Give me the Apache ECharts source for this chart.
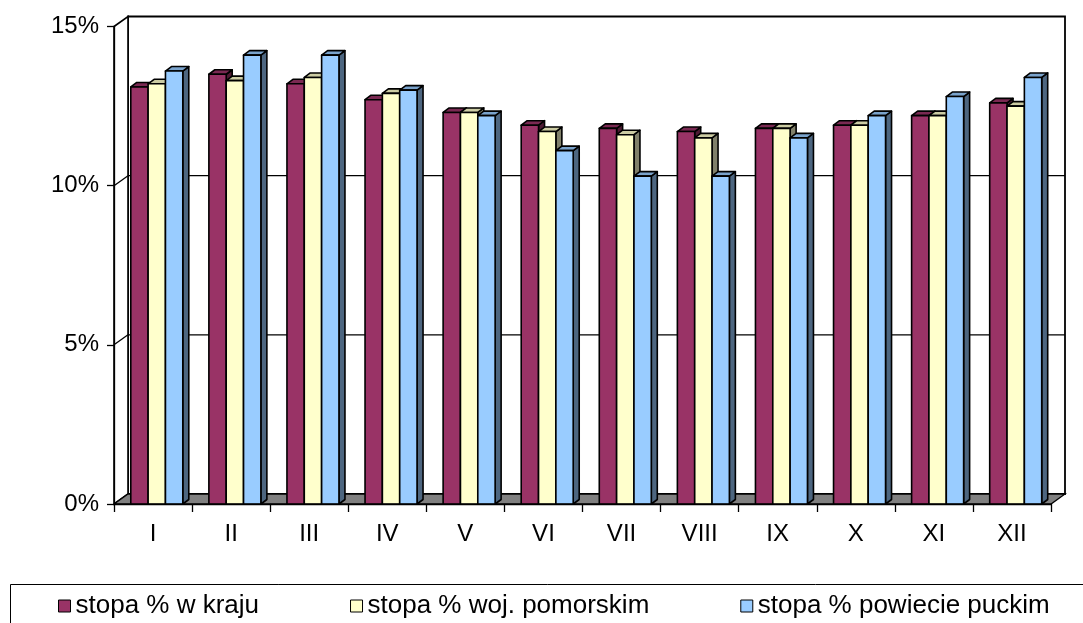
<!DOCTYPE html>
<html>
<head>
<meta charset="utf-8">
<script src="https://cdn.jsdelivr.net/npm/echarts@6/dist/echarts.min.js"></script>
<style>html,body{margin:0;padding:0;background:#fff;}#c{width:1083px;height:623px;}</style>
</head>
<body>
<div id="c"></div>
<script>
const categories = ['I','II','III','IV','V','VI','VII','VIII','IX','X','XI','XII'];
const seriesNames = ['stopa % w kraju', 'stopa % woj. pomorskim', 'stopa % powiecie puckim'];
const kraj     = [13.1, 13.5, 13.2, 12.7, 12.3, 11.9, 11.8, 11.7, 11.8, 11.9, 12.2, 12.6];
const pomorskie = [13.2, 13.3, 13.4, 12.9, 12.3, 11.7, 11.6, 11.5, 11.8, 11.9, 12.2, 12.5];
const puck     = [13.6, 14.1, 14.1, 13.0, 12.2, 11.1, 10.3, 10.3, 11.5, 12.2, 12.8, 13.4];
const yTicks = [0, 5, 10, 15];

const FRONT = ['#993366', '#FFFFCC', '#99CCFF'];
const TOP   = ['#7a2952', '#cccca3', '#7aa3cc'];
const SIDE  = ['#4d1a33', '#80806a', '#4d6680'];
const DX = 14, DY = -10;      // depth of the walls
const BDX = 6, BDY = -4.5;    // depth of a bar
const START = 0.215, W = 0.222;

function barRender(s) {
  return function (params, api) {
    const cat = api.value(0), v = api.value(1);
    const top = api.coord([cat, v]);
    const base = api.coord([cat, 0]);
    const band = api.size([1, 0])[0];
    const x0 = top[0] - band / 2 + band * (START + s * W);
    const w = band * W;
    const y = top[1], yb = base[1];
    const st = { stroke: '#000', lineWidth: 1.6, lineJoin: 'round' };
    return {
      type: 'group',
      children: [
        { type: 'polygon', shape: { points: [[x0 + w, y], [x0 + w + BDX, y + BDY], [x0 + w + BDX, yb + BDY], [x0 + w, yb]] },
          style: Object.assign({ fill: SIDE[s] }, st) },
        { type: 'polygon', shape: { points: [[x0, y], [x0 + w, y], [x0 + w + BDX, y + BDY], [x0 + BDX, y + BDY]] },
          style: Object.assign({ fill: TOP[s] }, st) },
        { type: 'rect', shape: { x: x0, y: y, width: w, height: yb - y },
          style: Object.assign({ fill: FRONT[s] }, st) }
      ]
    };
  };
}

function frameRender(params, api) {
  const cs = params.coordSys;
  const L = cs.x, R = cs.x + cs.width;
  const Y0 = api.coord([0, yTicks[0]])[1];
  const Ytop = api.coord([0, yTicks[yTicks.length - 1]])[1];
  const line = { stroke: '#000', lineWidth: 1.3 };
  const children = [];
  children.push({ type: 'rect', shape: { x: L + DX, y: Ytop + DY, width: R - L, height: Y0 - Ytop },
    style: { fill: '#fff', stroke: '#000', lineWidth: 1.8 } });
  children.push({ type: 'polygon', shape: { points: [[L, Ytop], [L + DX, Ytop + DY], [L + DX, Y0 + DY], [L, Y0]] },
    style: { fill: '#fff', stroke: '#000', lineWidth: 1.6 } });
  yTicks.slice(1, -1).forEach(function (t) {
    const yy = api.coord([0, t])[1];
    children.push({ type: 'line', shape: { x1: L + DX, y1: yy + DY, x2: R + DX, y2: yy + DY }, style: line });
    children.push({ type: 'line', shape: { x1: L, y1: yy, x2: L + DX, y2: yy + DY }, style: line });
  });
  children.push({ type: 'polygon', shape: { points: [[L, Y0], [R, Y0], [R + DX, Y0 + DY], [L + DX, Y0 + DY]] },
    style: { fill: '#808080', stroke: '#000', lineWidth: 1.3 } });
  return { type: 'group', children: children };
}

const chart = echarts.init(document.getElementById('c'), null, { renderer: 'canvas' });
const dataOf = [kraj, pomorskie, puck];
const FONT = '"Liberation Sans", Arial, sans-serif';

chart.setOption({
  animation: false,
  backgroundColor: '#fff',
  grid: { left: 114, right: 32, top: 26.5, bottom: 119, containLabel: false },
  xAxis: {
    type: 'category', data: categories, boundaryGap: true,
    axisLine: { show: true, lineStyle: { color: '#000', width: 1.3 } },
    axisTick: { show: true, length: 8, alignWithLabel: false, lineStyle: { color: '#000', width: 1.3 } },
    axisLabel: { color: '#000', fontSize: 24, fontFamily: FONT, margin: 18, interval: 0 },
    splitLine: { show: false }, z: 10
  },
  yAxis: {
    type: 'value', min: yTicks[0], max: yTicks[yTicks.length - 1], interval: 5,
    axisLine: { show: true, lineStyle: { color: '#000', width: 1.3 } },
    axisTick: { show: true, length: 7, lineStyle: { color: '#000', width: 1.3 } },
    axisLabel: { color: '#000', fontSize: 24, fontFamily: FONT, margin: 15, formatter: function (v) { return v + '%'; } },
    splitLine: { show: false }, z: 10
  },
  legend: {
    data: seriesNames, left: 58, top: 593, padding: 0, itemGap: 91,
    icon: 'rect', itemWidth: 12, itemHeight: 12,
    itemStyle: { borderColor: '#000', borderWidth: 1 },
    textStyle: { color: '#000', fontSize: 26, fontFamily: FONT, lineHeight: 26, padding: [0, 0, 0, 0] }
  },
  graphic: [
    { type: 'rect', left: 8, top: 582, shape: { width: 1100, height: 60 },
      style: { fill: 'none', stroke: '#000', lineWidth: 1 }, silent: true }
  ],
  series: [
    { type: 'custom', name: '_frame', renderItem: frameRender, data: [[0, 0]], silent: true, z: 1 }
  ].concat(seriesNames.map(function (n, s) {
    return {
      type: 'custom', name: n, z: 2 + s,
      itemStyle: { color: FRONT[s], borderColor: '#000', borderWidth: 1 },
      renderItem: barRender(s),
      encode: { x: 0, y: 1 },
      data: dataOf[s].map(function (v, i) { return [i, v]; })
    };
  }))
});
</script>
</body>
</html>
